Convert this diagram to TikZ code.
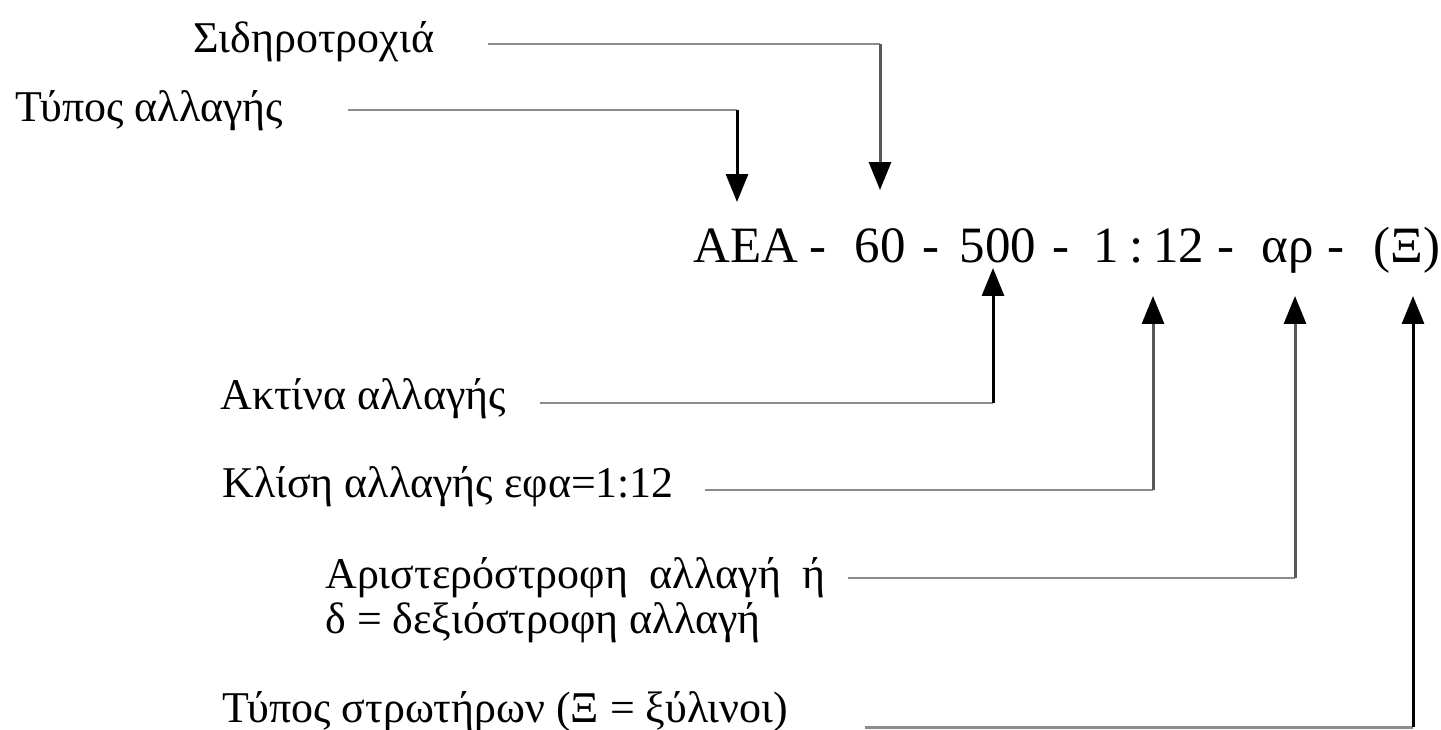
\documentclass[tikz,border=0pt]{standalone}
\usepackage{fontspec}
\setmainfont{Liberation Serif}
\usetikzlibrary{arrows.meta}
\begin{document}
\begin{tikzpicture}[x=0.02cm,y=-0.02cm,
  lbl/.style={anchor=base west,inner sep=0pt,font=\fontsize{25}{30}\selectfont},
  code/.style={anchor=base,inner sep=0pt,font=\fontsize{29}{35}\selectfont},
  hl/.style={draw=black!45,line width=1.7pt},
  vl/.style={draw=black!65,line width=1.7pt,-{Triangle[width=0.44cm,length=0.56cm,black]}}]
\useasboundingbox (0,0) rectangle (1441,730);
% code line
\node[code] (aea) at (746,262) {ΑΕΑ};
\node[code] (d1) at (818,262) {-};
\node[code] (n60) at (880,262) {60};
\node[code] (d2) at (931,262) {-};
\node[code] (n500) at (998,262) {500};
\node[code] (d3) at (1061,262) {-};
\node[code] (incl) at (1149,262) {1\hspace{0.2em}:\hspace{0.2em}12};
\node[code] (d4) at (1226,262) {-};
\node[code] (ar) at (1288,262) {αρ};
\node[code] (d5) at (1336,262) {-};
\node[code] (xi) at (1407,262) {(Ξ)};
% labels
\node[lbl] (sid) at (193,52) {Σιδηροτροχιά};
\node[lbl] (typ) at (15,121) {Τύπος αλλαγής};
\node[lbl] (akt) at (220,409) {Ακτίνα αλλαγής};
\node[lbl] (kli) at (222,497) {Κλίση αλλαγής εφα=1:12};
\node[lbl] (ari) at (325,588) {Αριστερόστροφη\ \ αλλαγή\ \ ή};
\node[lbl] (dex) at (325,633) {δ = δεξιόστροφη αλλαγή};
\node[lbl] (str) at (222,722) {Τύπος στρωτήρων (Ξ = ξύλινοι)};
% connector points
\coordinate (s1) at (488,44);  \coordinate (k1) at (880,44);
\coordinate (s2) at (348,110); \coordinate (k2) at (737,110);
\coordinate (s3) at (540,403); \coordinate (k3) at (993,403);
\coordinate (s4) at (705,490); \coordinate (k4) at (1153,490);
\coordinate (s5) at (848,578); \coordinate (k5) at (1295,578);
\coordinate (s6) at (865,727); \coordinate (k6) at (1413,727);
\coordinate (t1) at (880,190);
\coordinate (t2) at (737,202);
\coordinate (t3) at (993,268);
\coordinate (t4) at (1153,296);
\coordinate (t5) at (1295,296);
\coordinate (t6) at (1413,296);
% connectors
\draw[hl] (s1) -- (k1); \draw[vl] (k1) -- (t1);
\draw[hl] (s2) -- (k2); \draw[vl,draw=black] (k2) -- (t2);
\draw[hl] (s3) -- (k3); \draw[vl,draw=black] (k3) -- (t3);
\draw[hl] (s4) -- (k4); \draw[vl] (k4) -- (t4);
\draw[hl] (s5) -- (k5); \draw[vl] (k5) -- (t5);
\draw[hl] (s6) -- (k6); \draw[vl,draw=black] (k6) -- (t6);
\end{tikzpicture}
\end{document}
